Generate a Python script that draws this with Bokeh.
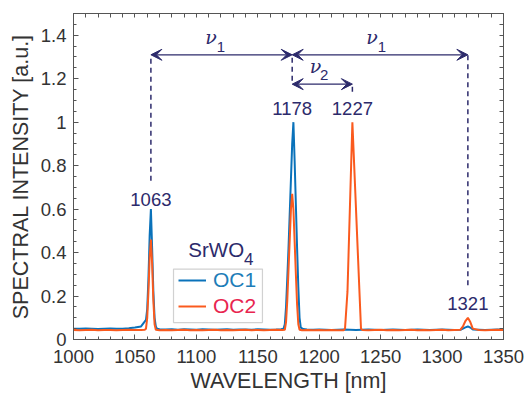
from bokeh.plotting import figure
from bokeh.models import (ColumnDataSource, LinearAxis, FixedTicker, Range1d, Arrow,
                          VeeHead, Legend, LegendItem, BoxAnnotation)
from bokeh.core.properties import value
from bokeh.embed import file_html
from bokeh.resources import INLINE

# ---------------- data ----------------
wl_oc1 = [1000, 1005, 1010, 1015, 1020, 1025, 1030, 1035, 1040, 1045, 1050, 1055, 1057,
          1059, 1060, 1061, 1062, 1063, 1064, 1065, 1066, 1067, 1068, 1070, 1075, 1080,
          1085, 1090, 1095, 1100, 1105, 1110, 1115, 1120, 1125, 1130, 1135, 1140, 1145,
          1150, 1155, 1160, 1165, 1169, 1171, 1172, 1173, 1174, 1175, 1176, 1177, 1178,
          1179, 1180, 1181, 1182, 1183, 1184, 1185, 1187, 1190, 1195, 1200, 1205, 1210,
          1215, 1220, 1225, 1230, 1235, 1240, 1245, 1250, 1255, 1260, 1265, 1270, 1275,
          1280, 1285, 1290, 1295, 1300, 1305, 1310, 1315, 1317, 1319, 1321, 1323, 1325,
          1330, 1335, 1340, 1345, 1350]
int_oc1 = [0.050, 0.049, 0.051, 0.050, 0.048, 0.050, 0.051, 0.049, 0.050, 0.052, 0.055,
           0.060, 0.075, 0.090, 0.140, 0.280, 0.480, 0.600, 0.420, 0.220, 0.100, 0.060,
           0.050, 0.047, 0.046, 0.047, 0.045, 0.047, 0.046, 0.045, 0.047, 0.046, 0.045,
           0.046, 0.047, 0.045, 0.046, 0.046, 0.045, 0.047, 0.046, 0.045, 0.046, 0.047,
           0.050, 0.070, 0.150, 0.280, 0.420, 0.580, 0.740, 0.900, 1.000, 0.820, 0.620,
           0.420, 0.240, 0.100, 0.055, 0.048, 0.046, 0.045, 0.046, 0.045, 0.044, 0.045,
           0.046, 0.045, 0.044, 0.045, 0.046, 0.045, 0.044, 0.045, 0.046, 0.045, 0.044,
           0.045, 0.046, 0.045, 0.044, 0.045, 0.046, 0.045, 0.044, 0.045, 0.050, 0.056,
           0.060, 0.055, 0.046, 0.045, 0.044, 0.045, 0.046, 0.045]

wl_oc2 = [1000, 1005, 1010, 1015, 1020, 1025, 1030, 1035, 1040, 1045, 1050, 1055, 1058,
          1059, 1060, 1061, 1062, 1063, 1064, 1065, 1066, 1067, 1070, 1075, 1080, 1085,
          1090, 1095, 1100, 1105, 1110, 1115, 1120, 1125, 1130, 1135, 1140, 1145, 1150,
          1155, 1160, 1165, 1170, 1172, 1173, 1174, 1175, 1176, 1177, 1178, 1179, 1180,
          1181, 1182, 1183, 1184, 1186, 1190, 1195, 1200, 1205, 1210, 1215, 1220, 1221,
          1223, 1227, 1234, 1235, 1240, 1245, 1250, 1255, 1260, 1265, 1270, 1275, 1280,
          1285, 1290, 1295, 1300, 1305, 1310, 1315, 1317, 1319, 1321, 1323, 1325, 1330,
          1335, 1340, 1345, 1350]
int_oc2 = [0.044, 0.043, 0.044, 0.045, 0.043, 0.044, 0.044, 0.043, 0.044, 0.045, 0.044,
           0.044, 0.045, 0.050, 0.100, 0.220, 0.380, 0.460, 0.350, 0.180, 0.070, 0.045,
           0.043, 0.044, 0.043, 0.044, 0.045, 0.043, 0.044, 0.043, 0.044, 0.045, 0.043,
           0.044, 0.043, 0.044, 0.045, 0.043, 0.044, 0.043, 0.044, 0.045, 0.044, 0.045,
           0.080, 0.180, 0.320, 0.460, 0.600, 0.670, 0.600, 0.450, 0.300, 0.160, 0.070,
           0.045, 0.043, 0.044, 0.043, 0.044, 0.043, 0.044, 0.043, 0.043, 0.050, 0.220,
           1.000, 0.050, 0.044, 0.043, 0.044, 0.045, 0.043, 0.044, 0.043, 0.044, 0.045,
           0.043, 0.044, 0.043, 0.044, 0.045, 0.043, 0.044, 0.045, 0.060, 0.085, 0.100,
           0.080, 0.050, 0.044, 0.043, 0.044, 0.045, 0.044]

series_names = ["OC1", "OC2"]

peak_wl = [1063, 1178, 1227, 1321]
peak_labels = ["1063", "1178", "1227", "1321"]
peak_label_y = [0.645, 1.065, 1.065, 0.165]

dash_x = [1063, 1178, 1227, 1321]
dash_y0 = [0.73, 1.19, 1.14, 0.25]
dash_y1 = [1.31, 1.31, 1.175, 1.31]

arrow_x0 = [1063, 1178, 1178]
arrow_x1 = [1178, 1321, 1227]
arrow_y = [1.31, 1.31, 1.175]

nu_x = [1112, 1243, 1197]
nu_y = [1.39, 1.39, 1.26]
nu_sub = ["1", "1", "2"]
nu_sub_x = [1120, 1251, 1204]
nu_sub_y = [1.345, 1.345, 1.215]

x_ticks = [1000, 1050, 1100, 1150, 1200, 1250, 1300, 1350]
x_tick_labels = ["1000", "1050", "1100", "1150", "1200", "1250", "1300", "1350"]
y_ticks = [0, 0.2, 0.4, 0.6, 0.8, 1, 1.2, 1.4]
y_tick_labels = ["0", "0.2", "0.4", "0.6", "0.8", "1", "1.2", "1.4"]
x_minor = list(range(1000, 1351, 10))
y_minor = [i * 0.05 for i in range(0, 31)]

# ---------------- style ----------------
BLUE = "#0a72ba"
ORANGE = "#fa5a1e"
NAVY = "#2c2a6b"
AXC = "#555555"
TXT = "#333333"
SANS = "Liberation Sans"

p = figure(width=527, height=398, output_backend="svg", toolbar_location=None,
           x_range=Range1d(1000, 1350), y_range=Range1d(0, 1.5),
           min_border_left=73, min_border_right=24, min_border_top=13,
           min_border_bottom=59, background_fill_color="white",
           border_fill_color="white")
p.xgrid.visible = False
p.ygrid.visible = False
p.outline_line_color = AXC
p.outline_line_width = 1


def style_axis(ax, ticks, minor, labels):
    ax.ticker = FixedTicker(ticks=ticks, minor_ticks=minor)
    ax.major_tick_in = 5
    ax.major_tick_out = 0
    ax.minor_tick_in = 3
    ax.minor_tick_out = 0
    ax.axis_line_color = AXC
    ax.major_tick_line_color = AXC
    ax.minor_tick_line_color = AXC
    ax.major_label_overrides = dict(zip(ticks, labels))
    ax.major_label_text_font = SANS
    ax.major_label_text_font_size = "18.5px"
    ax.major_label_text_color = TXT


def mirror_axis(ax, minor):
    # tick marks only (no labels) on the mirrored side of the box
    ax.ticker = FixedTicker(ticks=[], minor_ticks=minor)
    ax.minor_tick_in = 4
    ax.minor_tick_out = 0
    ax.major_tick_in = 0
    ax.major_tick_out = 0
    ax.axis_line_color = AXC
    ax.minor_tick_line_color = AXC
    ax.major_label_standoff = 0
    ax.axis_label = None


xa = p.xaxis[0]
ya = p.yaxis[0]
style_axis(xa, x_ticks, x_minor, x_tick_labels)
style_axis(ya, y_ticks, y_minor, y_tick_labels)
xa.major_label_standoff = 10
ya.major_label_standoff = 7
xa.axis_label = "WAVELENGTH [nm]"
ya.axis_label = "SPECTRAL INTENSITY [a.u.]"
for ax in (xa, ya):
    ax.axis_label_text_font = SANS
    ax.axis_label_text_font_size = "21.5px"
    ax.axis_label_text_font_style = "normal"
    ax.axis_label_text_color = TXT
xa.axis_label_standoff = 3
ya.axis_label_standoff = 5

top_ax = LinearAxis()
right_ax = LinearAxis()
mirror_axis(top_ax, x_minor)
mirror_axis(right_ax, y_minor)
p.add_layout(top_ax, "above")
p.add_layout(right_ax, "right")

# ---------------- spectra ----------------
src1 = ColumnDataSource(dict(x=wl_oc1, y=int_oc1))
src2 = ColumnDataSource(dict(x=wl_oc2, y=int_oc2))
r1 = p.line("x", "y", source=src1, line_color=BLUE, line_width=2)
r2 = p.line("x", "y", source=src2, line_color=ORANGE, line_width=2)

# ---------------- annotations ----------------
dsrc = ColumnDataSource(dict(x=dash_x, y0=dash_y0, y1=dash_y1))
p.segment(x0="x", y0="y0", x1="x", y1="y1", source=dsrc, line_color=NAVY,
          line_width=1.5, line_dash="5 4")

for xs, xe, ya_ in zip(arrow_x0, arrow_x1, arrow_y):
    p.add_layout(Arrow(x_start=xs, y_start=ya_, x_end=xe, y_end=ya_,
                       line_color=NAVY, line_width=1.2,
                       start=VeeHead(size=11, fill_color=NAVY, line_color=NAVY, line_width=1),
                       end=VeeHead(size=11, fill_color=NAVY, line_color=NAVY, line_width=1)))

psrc = ColumnDataSource(dict(x=peak_wl, y=peak_label_y, t=peak_labels))
p.text(x="x", y="y", text="t", source=psrc, text_font=value(SANS),
       text_font_size=value("18.5px"), text_align="center", text_baseline="middle",
       text_color=NAVY)

nsrc = ColumnDataSource(dict(x=nu_x, y=nu_y, t=["\u03bd"] * len(nu_x)))
p.text(x="x", y="y", text="t", source=nsrc, text_font=value("DejaVu Serif"),
       text_font_style="italic", text_font_size=value("19px"), text_align="center",
       text_baseline="middle", text_color=NAVY)
ssrc = ColumnDataSource(dict(x=nu_sub_x, y=nu_sub_y, t=nu_sub))
p.text(x="x", y="y", text="t", source=ssrc, text_font=value(SANS),
       text_font_size=value("15px"), text_align="center", text_baseline="middle",
       text_color=NAVY)

# SrWO4 label
p.text(x=[1093.5], y=[0.416], text=["SrWO"], text_font=value(SANS),
       text_font_size=value("20.5px"), text_align="left", text_baseline="middle",
       text_color=NAVY)
p.text(x=[1138.8], y=[0.372], text=["4"], text_font=value(SANS),
       text_font_size=value("17px"), text_align="left", text_baseline="middle",
       text_color=NAVY)

# ---------------- legend ----------------
p.add_layout(BoxAnnotation(left=1081.4, right=1153.8, bottom=0.078, top=0.324,
                           fill_color="white", fill_alpha=1.0, line_color="#666666",
                           line_width=1.2, level="annotation"))


def make_legend(name, rend, color, loc):
    lg = Legend(items=[LegendItem(label=name, renderers=[rend])], location=loc,
                padding=0, margin=0, spacing=0, glyph_width=28, glyph_height=20,
                label_height=20, label_standoff=7, border_line_alpha=0,
                background_fill_alpha=0, label_text_font=SANS,
                label_text_font_size="21px", label_text_color=color)
    return lg


p.add_layout(make_legend(series_names[0], r1, "#1e7db8", (105, 47)), "center")
p.add_layout(make_legend(series_names[1], r2, "#e8254f", (105, 21)), "center")

open("out.html", "w").write(file_html(p, INLINE))
